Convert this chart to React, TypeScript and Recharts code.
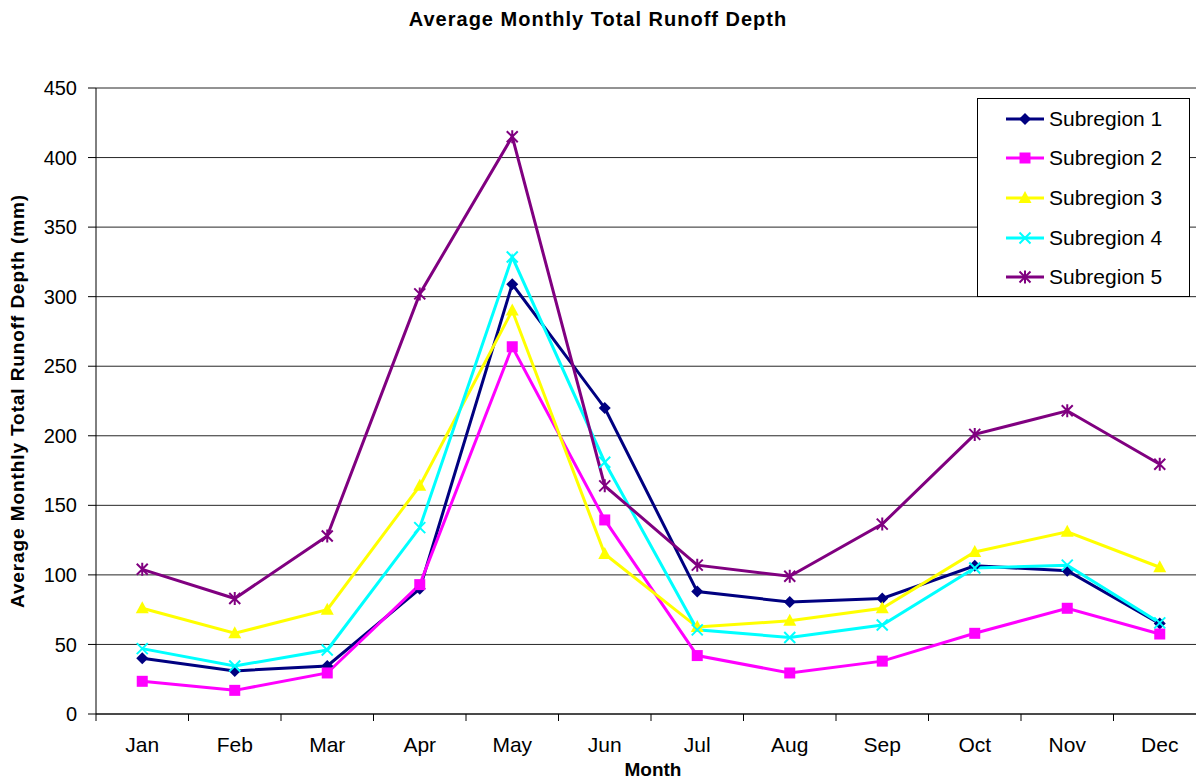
import React from 'react';
import { LineChart, Line, XAxis, YAxis, CartesianGrid } from 'recharts';

const months = ['Jan', 'Feb', 'Mar', 'Apr', 'May', 'Jun', 'Jul', 'Aug', 'Sep', 'Oct', 'Nov', 'Dec'];
const subregion1 = [40, 31, 34.5, 90, 309, 220, 88, 80.5, 83, 106.5, 103, 65];
const subregion2 = [23.5, 17, 29.5, 93, 264, 139.5, 42, 29.5, 38, 58, 76, 57.5];
const subregion3 = [76, 58, 75, 164, 290, 115, 62.5, 67, 76, 116.5, 131, 105.5];
const subregion4 = [47, 34.5, 46, 134, 328.5, 181, 60.5, 55, 64, 105, 107, 65.5];
const subregion5 = [104, 83, 128, 302, 415, 164, 107, 99, 136.5, 201, 218, 179.5];
const yTicks = [0, 50, 100, 150, 200, 250, 300, 350, 400, 450];

type Marker = 'diamond' | 'square' | 'triangle' | 'cross' | 'star';

const series: { key: string; name: string; color: string; marker: Marker }[] = [
  { key: 's1', name: 'Subregion 1', color: '#000080', marker: 'diamond' },
  { key: 's2', name: 'Subregion 2', color: '#FF00FF', marker: 'square' },
  { key: 's3', name: 'Subregion 3', color: '#FFFF00', marker: 'triangle' },
  { key: 's4', name: 'Subregion 4', color: '#00FFFF', marker: 'cross' },
  { key: 's5', name: 'Subregion 5', color: '#800080', marker: 'star' },
];

const data = months.map((m, i) => ({
  x: i + 1,
  month: m,
  s1: subregion1[i],
  s2: subregion2[i],
  s3: subregion3[i],
  s4: subregion4[i],
  s5: subregion5[i],
}));

// layout
const CHART_W = 1220;
const CHART_H = 780;
const MARGIN = { top: 88, right: 14, left: 0, bottom: 0 };
const Y_AXIS_W = 96;
const X_AXIS_H = 66;
const PLOT_W = CHART_W - MARGIN.left - MARGIN.right - Y_AXIS_W;
const STEP = PLOT_W / months.length;
const FONT = 'Liberation Sans, Arial, sans-serif';

const renderMarker = (type: Marker, cx: number, cy: number, color: string, key?: string) => {
  switch (type) {
    case 'diamond':
      return <path key={key} d={`M${cx},${cy - 6}L${cx + 6},${cy}L${cx},${cy + 6}L${cx - 6},${cy}Z`} fill={color} />;
    case 'square':
      return <rect key={key} x={cx - 5.5} y={cy - 5.5} width={11} height={11} fill={color} />;
    case 'triangle':
      return <path key={key} d={`M${cx},${cy - 7}L${cx + 6.5},${cy + 5}L${cx - 6.5},${cy + 5}Z`} fill={color} />;
    case 'cross':
      return (
        <path key={key} d={`M${cx - 5.5},${cy - 5.5}L${cx + 5.5},${cy + 5.5}M${cx + 5.5},${cy - 5.5}L${cx - 5.5},${cy + 5.5}`}
          stroke={color} strokeWidth={2} fill="none" />
      );
    case 'star':
      return (
        <path key={key}
          d={`M${cx - 5.5},${cy - 5.5}L${cx + 5.5},${cy + 5.5}M${cx + 5.5},${cy - 5.5}L${cx - 5.5},${cy + 5.5}M${cx},${cy - 6.5}L${cx},${cy + 6.5}`}
          stroke={color} strokeWidth={2} fill="none" />
      );
  }
};

const MonthTick = (props: any) => {
  const { x, y, index } = props;
  if (index >= months.length) return <g />;
  return (
    <text x={x + STEP / 2} y={y} dy={29} textAnchor="middle" fontSize={21} fill="#000" fontFamily={FONT}>
      {months[index]}
    </text>
  );
};

const App: React.FC = () => {
  return (
    <div style={{ position: 'absolute', left: 0, top: 0, width: 1196, height: 780, overflow: 'hidden', background: '#fff', fontFamily: FONT }}>
      <div style={{ position: 'absolute', left: 0, width: 1196, top: 8, textAlign: 'center', fontWeight: 'bold', fontSize: 20, letterSpacing: 1 }}>
        Average Monthly Total Runoff Depth
      </div>
      <div
        style={{
          position: 'absolute', left: 18, top: 401, width: 500, marginLeft: -250, textAlign: 'center',
          transform: 'translateY(-50%) rotate(-90deg)', fontWeight: 'bold', fontSize: 19, letterSpacing: 0.9,
        }}
      >
        Average Monthly Total Runoff Depth (mm)
      </div>
      <div style={{ position: 'absolute', left: 553, width: 200, top: 759, textAlign: 'center', fontWeight: 'bold', fontSize: 19 }}>
        Month
      </div>

      <LineChart width={CHART_W} height={CHART_H} data={data} margin={MARGIN}>
        <CartesianGrid vertical={false} stroke="#000" strokeOpacity={0.85} />
        <XAxis
          type="number"
          dataKey="x"
          domain={[0.5, 12.5]}
          ticks={[0.5, 1.5, 2.5, 3.5, 4.5, 5.5, 6.5, 7.5, 8.5, 9.5, 10.5, 11.5, 12.5]}
          interval={0}
          height={X_AXIS_H}
          tickSize={7}
          stroke="#000"
          tick={<MonthTick />}
        />
        <YAxis
          width={Y_AXIS_W}
          domain={[0, 450]}
          ticks={yTicks}
          interval={0}
          tickSize={8}
          tickMargin={11}
          stroke="#000"
          tick={{ fontSize: 20, fill: '#000', fontFamily: FONT }}
        />
        {series.map((s) => (
          <Line
            key={s.key}
            type="linear"
            dataKey={s.key}
            name={s.name}
            stroke={s.color}
            strokeWidth={3}
            isAnimationActive={false}
            dot={(p: any) => renderMarker(s.marker, p.cx, p.cy, s.color, `${s.key}-${p.index}`)}
            activeDot={false}
          />
        ))}
      </LineChart>

      <div
        style={{
          position: 'absolute', left: 977, top: 98, width: 213, height: 199, border: '1px solid #000',
          background: '#fff', boxSizing: 'border-box', paddingTop: 0,
        }}
      >
        {series.map((s) => (
          <div key={s.key} style={{ display: 'flex', alignItems: 'center', height: 39.6, paddingLeft: 28 }}>
            <svg width={38} height={16} style={{ marginRight: 5 }}>
              <line x1={0} y1={8} x2={38} y2={8} stroke={s.color} strokeWidth={3} />
              {renderMarker(s.marker, 19, 8, s.color)}
            </svg>
            <span style={{ fontSize: 21 }}>{s.name}</span>
          </div>
        ))}
      </div>
    </div>
  );
};

export default App;
